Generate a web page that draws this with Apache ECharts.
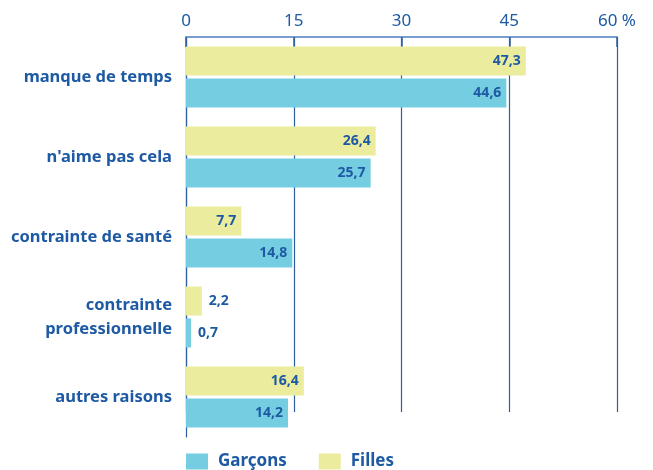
<!DOCTYPE html>
<html><head><meta charset="utf-8">
<script src="https://cdn.jsdelivr.net/npm/echarts@6/dist/echarts.min.js"></script>
<style>html,body{margin:0;padding:0;background:#fff}#c{width:653px;height:470px}</style>
</head><body><div id="c"></div>
<script>
const categories = ['manque de temps', "n'aime pas cela", 'contrainte de santé', 'contrainte\nprofessionnelle', 'autres raisons'];
const filles = [47.3, 26.4, 7.7, 2.2, 16.4];
const garcons = [44.6, 25.7, 14.8, 0.7, 14.2];
const xTicks = [0, 15, 30, 45, 60];

const BLUE = '#1d5aa3';
const fmt = v => String(v).replace('.', ',');
function items(arr) {
  return arr.map(v => ({
    value: v,
    label: v < 5 ? { position: 'right', distance: 7 } : { position: 'insideRight', distance: 5 }
  }));
}
const labelStyle = { show: true, color: BLUE, fontWeight: 'bold', fontSize: 14, fontFamily: 'Noto Sans', formatter: p => fmt(p.value) };

const chart = echarts.init(document.getElementById('c'), null, { renderer: 'canvas' });
chart.setOption({
  animation: false,
  textStyle: { fontFamily: 'Noto Sans' },
  grid: [
    { left: 186, right: 36, top: 37, bottom: 33 },
    { left: 186, right: 36, top: 37, bottom: 58 }
  ],
  legend: {
    data: ['Garçons', 'Filles'],
    left: 181, top: 448, itemWidth: 22, itemHeight: 16, itemGap: 32,
    icon: 'rect',
    textStyle: { color: BLUE, fontWeight: 'bold', fontSize: 17, fontFamily: 'Noto Sans', padding: [0, 0, 0, 5] }
  },
  xAxis: [
    {
      gridIndex: 0, type: 'value', position: 'top', min: xTicks[0], max: xTicks[xTicks.length - 1], interval: 15,
      axisLine: { show: true, lineStyle: { color: '#7a9ccf', width: 2 } },
      axisTick: { show: true, inside: true, length: 10, lineStyle: { color: '#2d5fa0', width: 1.5 } },
      axisLabel: { color: BLUE, fontSize: 17, margin: 7, formatter: v => v === 60 ? '60 %' : String(v) },
      splitLine: { show: false }
    },
    {
      gridIndex: 1, type: 'value', position: 'top', min: xTicks[0], max: xTicks[xTicks.length - 1], interval: 15,
      axisLine: { show: false }, axisTick: { show: false }, axisLabel: { show: false },
      splitLine: { show: true, lineStyle: { color: '#2d5fa0', width: 1.2 } }
    }
  ],
  yAxis: [
    {
      gridIndex: 0, type: 'category', data: categories, inverse: true,
      axisLine: { show: true, lineStyle: { color: '#2d5fa0', width: 1.2 } },
      axisTick: { show: false },
      axisLabel: { color: BLUE, fontWeight: 'bold', fontSize: 16.5, margin: 14, lineHeight: 24, align: 'right' }
    },
    {
      gridIndex: 1, type: 'category', data: categories, inverse: true, show: false
    }
  ],
  series: [
    {
      name: 'Filles', type: 'bar', xAxisIndex: 0, yAxisIndex: 0, data: items(filles),
      barWidth: 29, barGap: '10%', itemStyle: { color: '#ebec9d' }, label: labelStyle, z: 3
    },
    {
      name: 'Garçons', type: 'bar', xAxisIndex: 0, yAxisIndex: 0, data: items(garcons),
      barWidth: 29, barGap: '10%', itemStyle: { color: '#74cde0' }, label: labelStyle, z: 3
    }
  ]
});
</script></body></html>
